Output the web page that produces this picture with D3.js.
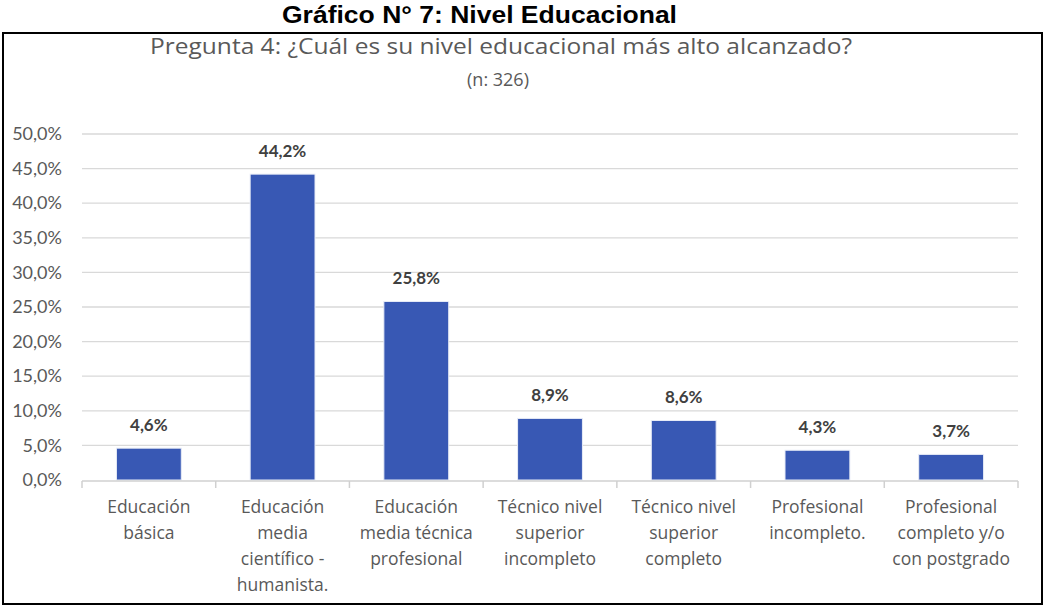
<!DOCTYPE html>
<html>
<head>
<meta charset="utf-8">
<script src="https://cdn.jsdelivr.net/npm/d3@7"></script>
<style>
  body { margin: 0; background: #fff; }
  svg { display: block; }
</style>
</head>
<body>
<div id="chart-area"></div>
<script>
// data
var categories = [
	["Educación", "básica"],
	["Educación", "media", "científico -", "humanista."],
	["Educación", "media técnica", "profesional"],
	["Técnico nivel", "superior", "incompleto"],
	["Técnico nivel", "superior", "completo"],
	["Profesional", "incompleto."],
	["Profesional", "completo y/o", "con postgrado"]
];
var values = [4.6, 44.2, 25.8, 8.9, 8.6, 4.3, 3.7];
var yTicks = [0, 5, 10, 15, 20, 25, 30, 35, 40, 45, 50];

var W = 1046, H = 606;
var plot = { left: 82, right: 1018, top: 134, bottom: 480 };

var svg = d3.select("#chart-area").append("svg")
	.attr("width", W)
	.attr("height", H);

var fmt = (d) => d.toFixed(1).replace(".", ",") + "%";

// outer title
svg.append("text")
	.attr("x", 282)
	.attr("y", 23)
	.attr("textLength", 395)
	.attr("lengthAdjust", "spacingAndGlyphs")
	.style("font-family", "Liberation Sans, Arial, sans-serif")
	.style("font-weight", "bold")
	.style("font-size", "23px")
	.text("Gráfico N° 7: Nivel Educacional");

// frame
svg.append("rect")
	.attr("x", 3)
	.attr("y", 33)
	.attr("width", 1039)
	.attr("height", 571)
	.attr("fill", "none")
	.attr("stroke", "#000")
	.attr("stroke-width", 2);

// chart title
svg.append("text")
	.attr("x", 150)
	.attr("y", 54)
	.attr("textLength", 702)
	.attr("lengthAdjust", "spacingAndGlyphs")
	.style("font-family", "Open Sans, sans-serif")
	.style("font-size", "21px")
	.style("fill", "#595959")
	.text("Pregunta 4: ¿Cuál es su nivel educacional más alto alcanzado?");

svg.append("text")
	.attr("x", 498)
	.attr("y", 86)
	.attr("text-anchor", "middle")
	.style("font-family", "Open Sans, sans-serif")
	.style("font-size", "18px")
	.style("fill", "#595959")
	.text("(n: 326)");

// scales
var x = d3.scaleBand()
	.domain(d3.range(categories.length))
	.range([plot.left, plot.right])
	.paddingInner(0.515)
	.paddingOuter(0.2575);

var y = d3.scaleLinear()
	.domain([0, 50])
	.range([plot.bottom, plot.top]);

var g = svg.append("g");

// gridlines
g.selectAll("line.grid")
	.data(yTicks.filter((d) => d > 0))
	.enter().append("line")
	.attr("class", "grid")
	.attr("x1", plot.left)
	.attr("x2", plot.right)
	.attr("y1", (d) => y(d))
	.attr("y2", (d) => y(d))
	.attr("stroke", "#d9d9d9")
	.attr("stroke-width", 1.3);

// y labels
var yAxis = d3.axisLeft(y)
	.tickValues(yTicks)
	.tickFormat(fmt)
	.tickSize(0)
	.tickPadding(20);

var yAxisGroup = g.append("g")
	.attr("transform", "translate(" + plot.left + ",0)")
	.call(yAxis);
yAxisGroup.select(".domain").remove();
yAxisGroup.selectAll("text")
	.style("font-family", "Lato, sans-serif")
	.style("font-size", "18px")
	.style("fill", "#595959");

// bars
g.selectAll("rect.bar")
	.data(values)
	.enter().append("rect")
	.attr("class", "bar")
	.attr("x", (d, i) => x(i))
	.attr("y", (d) => y(d))
	.attr("width", x.bandwidth())
	.attr("height", (d) => y(0) - y(d))
	.attr("fill", "#3858b4")
	.attr("stroke", "#e8ecf7")
	.attr("stroke-width", 1);

// data labels
g.selectAll("text.val")
	.data(values)
	.enter().append("text")
	.attr("class", "val")
	.attr("x", (d, i) => x(i) + x.bandwidth() / 2)
	.attr("y", (d) => y(d) - 17)
	.attr("text-anchor", "middle")
	.style("font-family", "Lato, sans-serif")
	.style("font-weight", "bold")
	.style("font-size", "17px")
	.style("fill", "#404040")
	.text(fmt);

// x axis line and ticks
var step = x.step();
var boundaries = d3.range(categories.length + 1).map((i) => plot.left + i * step);

g.append("line")
	.attr("x1", plot.left)
	.attr("x2", plot.right)
	.attr("y1", plot.bottom + 1)
	.attr("y2", plot.bottom + 1)
	.attr("stroke", "#d0d0d0")
	.attr("stroke-width", 1.5);

g.selectAll("line.tick")
	.data(boundaries)
	.enter().append("line")
	.attr("class", "tick")
	.attr("x1", (d) => d)
	.attr("x2", (d) => d)
	.attr("y1", plot.bottom + 1)
	.attr("y2", plot.bottom + 8)
	.attr("stroke", "#d0d0d0")
	.attr("stroke-width", 1.5);

// category labels
var cat = g.selectAll("text.cat")
	.data(categories)
	.enter().append("text")
	.attr("class", "cat")
	.attr("x", (d, i) => x(i) + x.bandwidth() / 2)
	.attr("y", 513)
	.attr("text-anchor", "middle")
	.style("font-family", "Open Sans, sans-serif")
	.style("font-size", "17.5px")
	.style("fill", "#595959");

cat.selectAll("tspan")
	.data((d) => d)
	.enter().append("tspan")
	.attr("x", function() { return d3.select(this.parentNode).attr("x"); })
	.attr("dy", (d, i) => i === 0 ? 0 : 26)
	.text((d) => d);
</script>
</body>
</html>
